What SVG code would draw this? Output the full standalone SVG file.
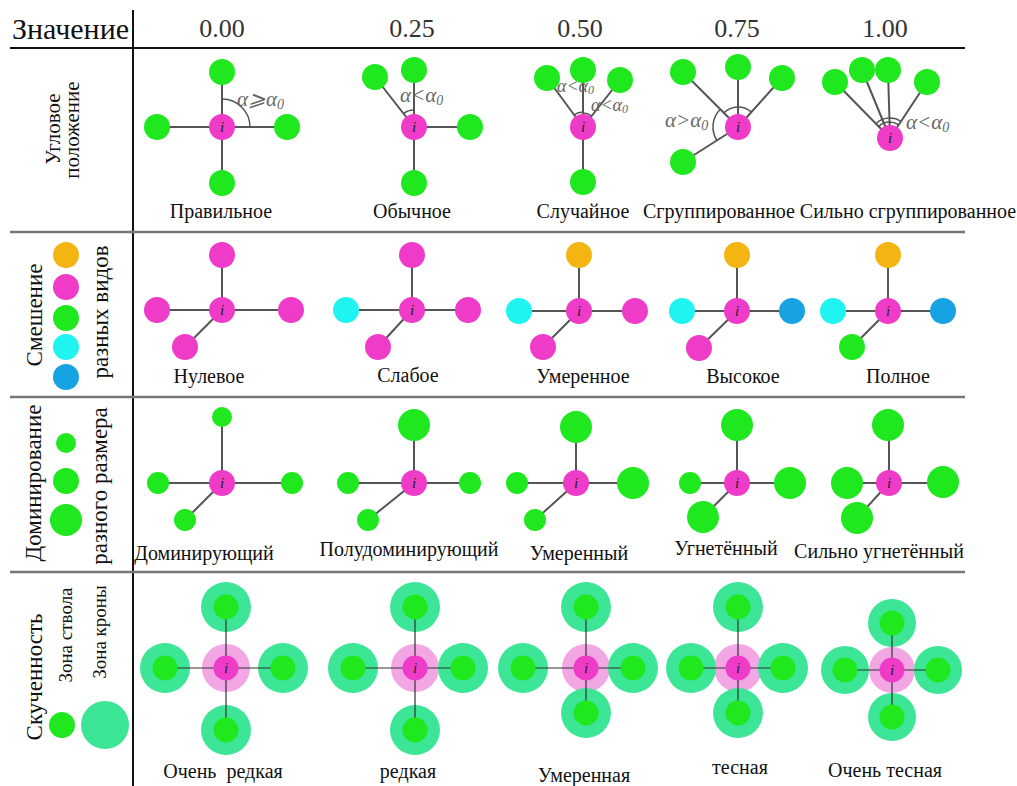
<svg xmlns="http://www.w3.org/2000/svg" width="1017" height="786" viewBox="0 0 1017 786">
<style>
.hd{font-size:30px;fill:#111}
.num{font-size:26px;text-anchor:middle;fill:#333}
.lb{font-size:20px;text-anchor:middle;fill:#111}
.side{font-size:23px;text-anchor:middle;fill:#111}
.side2{font-size:21px;text-anchor:middle;fill:#111}
.side3{font-size:19px;text-anchor:middle;fill:#111}
.al{font-size:21px;font-style:italic;fill:#666}
.al2{font-size:18px;font-style:italic;fill:#666}
.sub{font-size:14px}
.sub2{font-size:12px}
.ic{font-size:15px;font-style:italic;text-anchor:middle;fill:#222}
.g{fill:#1fe81f}
.m{fill:#ee3cc9}
.o{fill:#f4b512}
.c{fill:#1ff4f0}
.b{fill:#17a3e2}
.cr{fill:#3de596}
.pc{fill:#f3a6e4}
.ln{stroke:#555;stroke-width:2;fill:none}
.ln4{stroke:#333;stroke-width:1.2;fill:none}
.arc{stroke:#555;stroke-width:1.5;fill:none}
.rule{stroke:#111;stroke-width:2}
.rule2{stroke:#777;stroke-width:2.5}
</style>
<g id="grid">
<line class="rule" x1="10" y1="48" x2="965" y2="48"/>
<line class="rule" x1="133" y1="10" x2="133" y2="786"/>
<line class="rule2" x1="10" y1="232" x2="965" y2="232"/>
<line class="rule2" x1="10" y1="397" x2="965" y2="397"/>
<line class="rule2" x1="10" y1="572" x2="965" y2="572"/>
</g>
<g id="header" font-family="Liberation Serif, serif">
<text class="hd" x="12" y="39">Значение</text>
<text class="num" x="222" y="37">0.00</text>
<text class="num" x="412" y="37">0.25</text>
<text class="num" x="580" y="37">0.50</text>
<text class="num" x="737" y="37">0.75</text>
<text class="num" x="885" y="37">1.00</text>
</g>
<g id="side-labels" font-family="Liberation Serif, serif">
<text class="side2" transform="translate(60,129) rotate(-90)">Угловое</text>
<text class="side2" transform="translate(79,130) rotate(-90)">положение</text>
<text class="side" transform="translate(42,315) rotate(-90)">Смешение</text>
<text class="side" transform="translate(108,312) rotate(-90)">разных видов</text>
<text class="side" transform="translate(41,483) rotate(-90)">Доминирование</text>
<text class="side" transform="translate(107,486) rotate(-90)">разного размера</text>
<text class="side" transform="translate(42,677) rotate(-90)">Скученность</text>
<text class="side3" transform="translate(72,635) rotate(-90)">Зона ствола</text>
<text class="side3" transform="translate(106,632) rotate(-90)">Зона кроны</text>
</g>
<g id="legend">
<g id="lg-orange"><circle class="o" cx="66" cy="255" r="13"/></g>
<g id="lg-pink"><circle class="m" cx="66" cy="287" r="13"/></g>
<g id="lg-green"><circle class="g" cx="66" cy="318" r="13"/></g>
<g id="lg-cyan"><circle class="c" cx="66" cy="347" r="13"/></g>
<g id="lg-blue"><circle class="b" cx="66" cy="377" r="13"/></g>
<g id="lg-small"><circle class="g" cx="66" cy="443" r="10"/></g>
<g id="lg-medium"><circle class="g" cx="66" cy="481" r="13"/></g>
<g id="lg-large"><circle class="g" cx="66" cy="520" r="16"/></g>
<g id="lg-trunk"><circle class="g" cx="62" cy="725" r="13"/></g>
<g id="lg-crown"><circle class="cr" cx="105" cy="725" r="24"/></g>
</g>
<g id="zones">
<circle class="pc" cx="226" cy="668" r="24"/>
<circle class="cr" cx="226" cy="607" r="25"/><circle class="cr" cx="165" cy="668" r="25"/><circle class="cr" cx="283" cy="668" r="25"/><circle class="cr" cx="226" cy="730" r="25"/>
<circle class="pc" cx="415" cy="668" r="24"/>
<circle class="cr" cx="415" cy="607" r="25"/><circle class="cr" cx="353" cy="668" r="25"/><circle class="cr" cx="463" cy="668" r="25"/><circle class="cr" cx="415" cy="730" r="25"/>
<circle class="pc" cx="586" cy="668" r="24"/>
<circle class="cr" cx="586" cy="607" r="25"/><circle class="cr" cx="523" cy="668" r="25"/><circle class="cr" cx="633" cy="668" r="25"/><circle class="cr" cx="586" cy="713" r="25"/>
<circle class="pc" cx="738" cy="668" r="24"/>
<circle class="cr" cx="738" cy="607" r="25"/><circle class="cr" cx="691" cy="668" r="25"/><circle class="cr" cx="783" cy="668" r="25"/><circle class="cr" cx="738" cy="713" r="25"/>
<circle class="pc" cx="892" cy="670" r="23"/>
<circle class="cr" cx="892" cy="623" r="24"/><circle class="cr" cx="845" cy="670" r="24"/><circle class="cr" cx="938" cy="670" r="24"/><circle class="cr" cx="892" cy="717" r="24"/>
</g>
<g id="connectors">
<path class="ln" d="M222,127V72M222,127H157M222,127H287M222,127V183"/>
<path class="ln" d="M414,127L375,77M414,127V70M414,127H470M414,127V183"/>
<path class="ln" d="M583,127L547,78M583,127V70M583,127L620,80M583,127V182"/>
<path class="ln" d="M738,127L683,72M738,127V67M738,127L782,78M738,127L683,162"/>
<path class="ln" d="M890,138L835,82M890,138L862,70M890,138L888,70M890,138L927,82"/>
<path class="arc" d="M222,99A28,28 0 0 1 250,127"/>
<path class="arc" d="M403.5,113.6A17,17 0 0 1 414,110"/>
<path class="arc" d="M574.1,114.9A15,15 0 0 1 583,112M583,113A14,14 0 0 1 591.7,116"/>
<path class="arc" d="M723.9,112.9A20,20 0 0 1 751.4,112.1M720.3,109.3A25,25 0 0 0 716.9,140.4"/>
<path class="arc" d="M876,123.7A20,20 0 0 1 901,121.3M879,126A16,16 0 0 1 898,124.5"/>
<path class="ln" d="M222,310V255M222,310H157M222,310H291M222,310L185,347"/>
<path class="ln" d="M412,310V255M412,310H346M412,310H468M412,310L378,347"/>
<path class="ln" d="M579,311V255M579,311H519M579,311H635M579,311L543,347"/>
<path class="ln" d="M737,311V255M737,311H682M737,311H792M737,311L699,348"/>
<path class="ln" d="M888,311V255M888,311H833M888,311H943M888,311L852,347"/>
<path class="ln" d="M222,483V417M222,483H158M222,483H292M222,483L185,520"/>
<path class="ln" d="M414,483V425M414,483H348M414,483H470M414,483L368,520"/>
<path class="ln" d="M576,483V427M576,483H517M576,483H633M576,483L535,520"/>
<path class="ln" d="M737,483V425M737,483H690M737,483H790M737,483L703,517"/>
<path class="ln" d="M889,483V425M889,483H847M889,483H943M889,483L857,518"/>
<path class="ln4" d="M226,668V607M226,668H165M226,668H283M226,668V730"/>
<path class="ln4" d="M415,668V607M415,668H353M415,668H463M415,668V730"/>
<path class="ln4" d="M586,668V607M586,668H523M586,668H633M586,668V713"/>
<path class="ln4" d="M738,668V607M738,668H691M738,668H783M738,668V713"/>
<path class="ln4" d="M892,670V623M892,670H845M892,670H938M892,670V717"/>
</g>
<g id="row1-nodes" font-family="Liberation Serif, serif">
<g id="r1c1"><circle class="g" cx="222" cy="72" r="13"/><circle class="g" cx="157" cy="127" r="13"/><circle class="g" cx="287" cy="127" r="13"/><circle class="g" cx="222" cy="183" r="13"/><circle class="m" cx="222" cy="127" r="13"/><text class="ic" x="222" y="132">i</text></g>
<g id="r1c2"><circle class="g" cx="375" cy="77" r="13"/><circle class="g" cx="414" cy="70" r="13"/><circle class="g" cx="470" cy="127" r="13"/><circle class="g" cx="414" cy="183" r="13"/><circle class="m" cx="414" cy="127" r="13"/><text class="ic" x="414" y="132">i</text></g>
<g id="r1c3"><circle class="g" cx="547" cy="78" r="13"/><circle class="g" cx="583" cy="70" r="13"/><circle class="g" cx="620" cy="80" r="13"/><circle class="g" cx="583" cy="182" r="13"/><circle class="m" cx="583" cy="127" r="13"/><text class="ic" x="583" y="132">i</text></g>
<g id="r1c4"><circle class="g" cx="683" cy="72" r="13"/><circle class="g" cx="738" cy="67" r="13"/><circle class="g" cx="782" cy="78" r="13"/><circle class="g" cx="683" cy="162" r="13"/><circle class="m" cx="738" cy="127" r="13"/><text class="ic" x="738" y="132">i</text></g>
<g id="r1c5"><circle class="g" cx="835" cy="82" r="13"/><circle class="g" cx="862" cy="70" r="13"/><circle class="g" cx="888" cy="70" r="13"/><circle class="g" cx="927" cy="82" r="13"/><circle class="m" cx="890" cy="138" r="13"/><text class="ic" x="890" y="143">i</text></g>
</g>
<g id="row1-angles" font-family="Liberation Serif, DejaVu Serif, serif">
<text class="al" x="237" y="106">α⩾α<tspan class="sub" dy="3">0</tspan></text>
<text class="al" x="400" y="102">α&lt;α<tspan class="sub" dy="3">0</tspan></text>
<text class="al2" x="557" y="92">α&lt;α<tspan class="sub2" dy="2">0</tspan></text>
<text class="al2" x="591" y="111">α&lt;α<tspan class="sub2" dy="2">0</tspan></text>
<text class="al" x="665" y="127">α&gt;α<tspan class="sub" dy="3">0</tspan></text>
<text class="al" x="906" y="129">α&lt;α<tspan class="sub" dy="3">0</tspan></text>
</g>
<g id="row2-nodes" font-family="Liberation Serif, serif">
<g id="r2c1"><circle class="m" cx="222" cy="255" r="13"/><circle class="m" cx="157" cy="310" r="13"/><circle class="m" cx="291" cy="310" r="13"/><circle class="m" cx="185" cy="347" r="13"/><circle class="m" cx="222" cy="310" r="13"/><text class="ic" x="222" y="315">i</text></g>
<g id="r2c2"><circle class="m" cx="412" cy="255" r="13"/><circle class="c" cx="346" cy="310" r="13"/><circle class="m" cx="468" cy="310" r="13"/><circle class="m" cx="378" cy="347" r="13"/><circle class="m" cx="412" cy="310" r="13"/><text class="ic" x="412" y="315">i</text></g>
<g id="r2c3"><circle class="o" cx="579" cy="255" r="13"/><circle class="c" cx="519" cy="311" r="13"/><circle class="m" cx="635" cy="311" r="13"/><circle class="m" cx="543" cy="347" r="13"/><circle class="m" cx="579" cy="311" r="13"/><text class="ic" x="579" y="316">i</text></g>
<g id="r2c4"><circle class="o" cx="737" cy="255" r="13"/><circle class="c" cx="682" cy="311" r="13"/><circle class="b" cx="792" cy="311" r="13"/><circle class="m" cx="699" cy="348" r="13"/><circle class="m" cx="737" cy="311" r="13"/><text class="ic" x="737" y="316">i</text></g>
<g id="r2c5"><circle class="o" cx="888" cy="255" r="13"/><circle class="c" cx="833" cy="311" r="13"/><circle class="b" cx="943" cy="311" r="13"/><circle class="g" cx="852" cy="347" r="13"/><circle class="m" cx="888" cy="311" r="13"/><text class="ic" x="888" y="316">i</text></g>
</g>
<g id="row3-nodes" font-family="Liberation Serif, serif">
<g id="r3c1"><circle class="g" cx="222" cy="417" r="10"/><circle class="g" cx="158" cy="483" r="11"/><circle class="g" cx="292" cy="483" r="11"/><circle class="g" cx="185" cy="520" r="11"/><circle class="m" cx="222" cy="483" r="13"/><text class="ic" x="222" y="488">i</text></g>
<g id="r3c2"><circle class="g" cx="414" cy="425" r="16"/><circle class="g" cx="348" cy="483" r="11"/><circle class="g" cx="470" cy="483" r="11"/><circle class="g" cx="368" cy="520" r="11"/><circle class="m" cx="414" cy="483" r="13"/><text class="ic" x="414" y="488">i</text></g>
<g id="r3c3"><circle class="g" cx="576" cy="427" r="16"/><circle class="g" cx="517" cy="483" r="11"/><circle class="g" cx="633" cy="483" r="16"/><circle class="g" cx="535" cy="520" r="11"/><circle class="m" cx="576" cy="483" r="13"/><text class="ic" x="576" y="488">i</text></g>
<g id="r3c4"><circle class="g" cx="737" cy="425" r="16"/><circle class="g" cx="690" cy="483" r="11"/><circle class="g" cx="790" cy="483" r="16"/><circle class="g" cx="703" cy="517" r="16"/><circle class="m" cx="737" cy="483" r="13"/><text class="ic" x="737" y="488">i</text></g>
<g id="r3c5"><circle class="g" cx="888" cy="425" r="16"/><circle class="g" cx="847" cy="483" r="16"/><circle class="g" cx="943" cy="482" r="16"/><circle class="g" cx="857" cy="518" r="16"/><circle class="m" cx="889" cy="483" r="13"/><text class="ic" x="889" y="488">i</text></g>
</g>
<g id="row4-nodes" font-family="Liberation Serif, serif">
<g id="r4c1"><circle class="g" cx="226" cy="607" r="12.5"/><circle class="g" cx="165" cy="668" r="12.5"/><circle class="g" cx="283" cy="668" r="12.5"/><circle class="g" cx="226" cy="730" r="12.5"/><circle class="m" cx="226" cy="668" r="12.5"/><text class="ic" x="226" y="673">i</text></g>
<g id="r4c2"><circle class="g" cx="415" cy="607" r="12.5"/><circle class="g" cx="353" cy="668" r="12.5"/><circle class="g" cx="463" cy="668" r="12.5"/><circle class="g" cx="415" cy="730" r="12.5"/><circle class="m" cx="415" cy="668" r="12.5"/><text class="ic" x="415" y="673">i</text></g>
<g id="r4c3"><circle class="g" cx="586" cy="607" r="12.5"/><circle class="g" cx="523" cy="668" r="12.5"/><circle class="g" cx="633" cy="668" r="12.5"/><circle class="g" cx="586" cy="713" r="12.5"/><circle class="m" cx="586" cy="668" r="12.5"/><text class="ic" x="586" y="673">i</text></g>
<g id="r4c4"><circle class="g" cx="738" cy="607" r="12.5"/><circle class="g" cx="691" cy="668" r="12.5"/><circle class="g" cx="783" cy="668" r="12.5"/><circle class="g" cx="738" cy="713" r="12.5"/><circle class="m" cx="738" cy="668" r="12.5"/><text class="ic" x="738" y="673">i</text></g>
<g id="r4c5"><circle class="g" cx="892" cy="623" r="12.5"/><circle class="g" cx="845" cy="670" r="12.5"/><circle class="g" cx="938" cy="670" r="12.5"/><circle class="g" cx="892" cy="717" r="12.5"/><circle class="m" cx="892" cy="670" r="12.5"/><text class="ic" x="892" y="675">i</text></g>
</g>
<g id="cell-labels" font-family="Liberation Serif, serif">
<text class="lb" x="221" y="218">Правильное</text>
<text class="lb" x="412" y="218">Обычное</text>
<text class="lb" x="583" y="218">Случайное</text>
<text class="lb" x="719" y="218">Сгруппированное</text>
<text class="lb" x="908" y="218">Сильно сгруппированное</text>
<text class="lb" x="209" y="383">Нулевое</text>
<text class="lb" x="408" y="382">Слабое</text>
<text class="lb" x="583" y="383">Умеренное</text>
<text class="lb" x="743" y="383">Высокое</text>
<text class="lb" x="898" y="383">Полное</text>
<text class="lb" x="204" y="560">Доминирующий</text>
<text class="lb" x="409" y="556">Полудоминирующий</text>
<text class="lb" x="579" y="560">Умеренный</text>
<text class="lb" x="726" y="555">Угнетённый</text>
<text class="lb" x="879" y="558">Сильно угнетённый</text>
<text class="lb" x="223" y="778" xml:space="preserve">Очень  редкая</text>
<text class="lb" x="408" y="778">редкая</text>
<text class="lb" x="584" y="782">Умеренная</text>
<text class="lb" x="740" y="774">тесная</text>
<text class="lb" x="885" y="777">Очень тесная</text>
</g>
</svg>
